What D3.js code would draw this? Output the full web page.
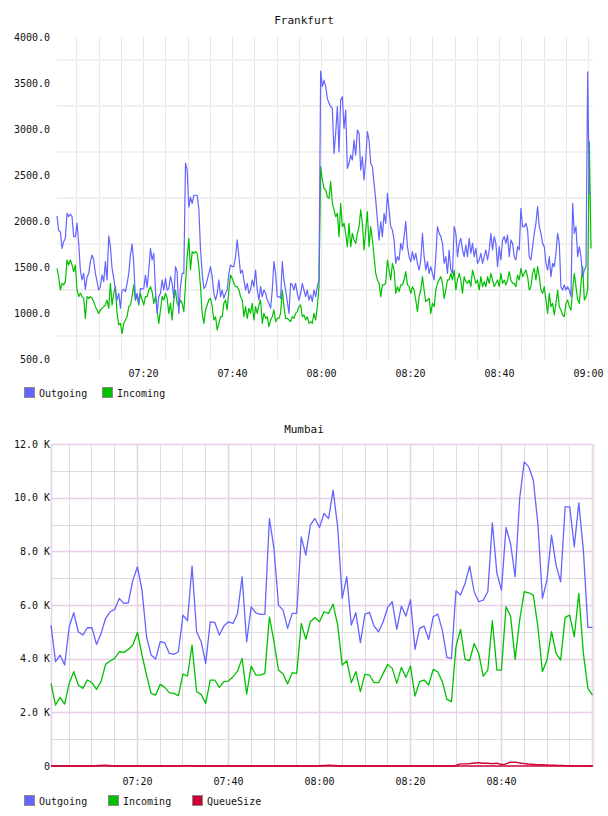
<!DOCTYPE html>
<html><head><meta charset="utf-8">
<script src="https://cdn.jsdelivr.net/npm/d3@7"></script>
<style>
body{margin:0;background:#fff}
svg text{font-family:"DejaVu Sans Mono",monospace;fill:#111}
</style>
</head><body>
<svg id="c" width="608" height="816"></svg>
<script>
// ---------------- Frankfurt data (samples every 22.5 s from 07:00:40) ----------------
const frankStart = "07:00:40";
const frankStepSec = 22.5;
const frankOutgoing = [
2055,1895,1884,1703,1775,1812,2083,2047,2076,2047,
1830,1830,1975,1757,1467,1359,1431,1257,1388,1431,
1558,1630,1576,1431,1341,1250,1286,1413,1341,1558,
1359,1837,1721,1486,1377,1250,1141,1214,1051,1250,
1257,1232,1323,1431,1630,1750,1540,1141,1214,1105,
1268,1257,1268,1413,1279,1467,1703,1576,1649,1250,
996,1178,1214,1359,1250,1377,1250,1268,1395,1323,
1160,1504,1449,996,1286,1431,1431,
2630,2555,2150,2260,2190,2280,2280,2280,2130,
1690,1430,1268,1286,1359,1431,1504,1395,1214,1141,
1214,1359,1178,1250,1160,1214,1250,1431,1522,1504,
1504,1612,1794,1612,1431,1467,1359,1250,1323,1214,
1250,1359,1286,1467,1250,1141,1286,1178,1250,1214,
1141,1105,1051,1250,1558,1431,1178,1178,1160,1558,
1359,1250,1123,996,1323,1305,1250,1323,1214,1141,
1214,1323,1250,1178,1250,1141,1196,1123,1250,1178,1286,1359,
3630,3460,3532,3460,3333,3279,3243,3225,2735,2953,3243,2754,3315,3351,3007,3206,2572,
2627,2717,2663,2880,2717,2989,2953,2554,2699,2446,2663,2971,2880,2627,2590,2409,2228,
2011,1793,1993,1830,2083,1975,2300,2120,1938,1902,
1793,1540,1612,1576,1757,1685,1830,1993,1721,1612,
1558,1667,1576,1649,1540,1467,1576,1866,1612,1467,
1558,1431,1504,1431,1359,1612,1938,1866,1830,1757,
1540,1612,1431,1685,1467,1431,1938,1866,1612,1757,
1812,1685,1612,1739,1612,1812,1649,1757,1612,1703,
1540,1576,1649,1540,1612,1685,1576,1685,1866,1685,
1830,1757,1504,1721,1576,1794,1830,1757,1848,1612,
1794,1757,1612,1576,1721,1685,2138,1938,1938,1975,
1902,1612,1576,1721,1866,1975,2156,1938,1866,1757,
1721,1540,1467,1612,1395,1540,1504,1649,1866,1757,
1286,1250,1305,1250,1286,1250,1178,2192,1866,1938,
1612,1721,1612,1395,1467,1504,3620,2300,2300
];
const frankIncoming = [
1486,
1395,1250,1323,1305,1341,1576,1522,1576,1522,1449,
1522,1250,1178,1214,1178,1160,942,1178,1160,1178,
1160,1123,1069,1033,996,1033,1051,1069,1087,1141,
1051,1323,1087,1214,1286,996,870,888,779,888,
924,960,1069,1087,1178,
1305,1141,1196,1087,1214,1141,1087,1178,1178,1250,
1286,1232,1105,1178,1033,888,1033,1178,1141,1214,
1160,996,1105,924,1141,1250,1105,1069,1141,1105,1015,1305,1612,1812,
1467,1667,1649,1667,1649,1504,1286,996,888,1033,
1087,1141,1160,1069,924,960,815,888,960,960,
1105,1141,1033,1250,1413,1377,1323,1286,1286,1250,
1178,1141,960,1069,942,1051,996,1105,924,1069,
996,1087,1141,888,996,942,960,851,924,960,
1033,906,942,942,996,1250,1069,942,942,924,
906,960,942,996,1015,1069,
1087,960,978,924,960,888,906,888,996,924,1069,1286,
2590,2446,2355,2337,2264,2246,2427,
2192,2120,2047,2083,1830,2192,1938,1975,1866,1721,
1975,1721,1866,1794,1757,1866,1938,2120,1975,1685,
1902,2101,1721,1938,1794,1612,1431,1359,1323,1178,
1305,1305,1323,1576,1467,1359,1540,1467,1214,1286,
1232,1305,1305,1359,1449,1305,1286,1214,1286,1250,
1141,1015,1178,1250,1395,1250,1123,1141,1160,996,
1105,1069,1250,1323,1359,1395,1323,1160,1250,1359,
1359,1431,1359,1467,1250,1359,1431,1359,1214,1395,
1341,1323,1359,1286,1467,1395,1323,1359,1250,1395,
1286,1341,1286,1395,1323,1431,1359,1286,1323,1359,
1286,1431,1323,1359,1305,1359,1449,1359,1323,1323,
1286,1413,1359,1486,1395,1431,1467,1395,1250,1286,
1431,1486,1359,1504,1395,1250,1214,1286,1141,996,
1214,1069,1105,978,1105,1250,1069,1033,978,960,
1105,1141,1069,1033,1250,1431,1286,1141,1105,1322,
1504,1141,1178,1250,
2860,1700
];
const frankDomain = ["07:00:40", "09:01:07"];
const frankYTicks = [500,1000,1500,2000,2500,3000,3500,4000];
const frankYGrid = [750,1250,1750,2250,2750,3250,3750];
const frankXTicks = ["07:20:00","07:40:00","08:00:00","08:20:00","08:40:00","09:00:00"];

// ---------------- Mumbai data (one sample per minute from 07:01:06) ----------------
const mumStart = "07:01:06";
const mumStepSec = 60;
const mumOutgoing = [
5251,3886,4134,3762,5189,5710,5003,4879,5152,5152,
4531,4941,5499,5748,5835,6245,6059,6084,6928,7424,
6556,4817,4134,3985,4631,4593,4196,4159,4258,5624,
5413,7449,5003,4631,3824,5375,5350,4879,5214,5375,
5313,5686,7052,4631,5934,5710,5648,5648,9224,8107,
5997,5811,5127,5686,5686,8541,7859,8976,9224,8889,
9410,9224,10279,8914,6245,7052,5251,5710,4593,5661,
5723,5214,5003,5375,5909,6120,5090,5959,5586,6200,
4345,5127,5214,4717,5561,5661,5065,4047,4010,6530,
6369,6804,7449,6494,6121,6183,6494,9063,7176,6556,
8889,8293,7052,9969,11334,11148,10651,9038,6245,6928,
8603,7486,6866,9658,9658,8169,9807,8045,5164,5164
];
const mumIncoming = [
3080,2273,2558,2310,3080,3514,3017,2893,3204,3104,
2856,3142,3787,3911,4010,4258,4234,4345,4507,4978,
4134,3390,2707,2645,3042,2930,2732,2707,2620,3427,
3353,4507,2769,2670,2335,3204,3204,2930,3142,3166,
3328,3539,4010,2682,3725,3390,3390,3452,5561,4631,
3576,3427,3055,3477,3452,5313,4717,5375,5537,5375,
5748,5686,6033,5251,3762,3923,3104,3514,2769,3427,
3390,3104,3104,3452,3787,3638,3080,3675,3303,3725,
2608,3142,3204,3017,3601,3514,3142,2484,2397,4444,
5090,3973,3923,4569,4196,3353,3576,5413,3576,3576,
5934,5586,3973,5437,6494,6456,6369,5189,3514,3948,
5003,4196,3948,5537,5624,4817,6431,4196,2893,2645
];
const mumQueue = [
0,0,0,0,0,0,0,0,0,0,
10,25,30,15,0,0,0,0,0,0,
0,0,0,0,0,0,0,0,0,5,
15,5,0,0,0,0,0,0,0,0,
0,0,0,0,0,0,0,0,0,0,
0,0,0,0,0,0,0,0,0,10,
20,30,25,10,0,0,0,0,0,0,
0,0,0,0,0,0,0,0,0,0,
0,0,0,0,0,0,0,0,0,20,
80,80,90,110,120,100,100,90,100,60,
80,140,140,110,90,70,60,50,45,35,
30,25,20,15,10,5,5,0,0,0
];
const mumDomain = ["07:01:06", "09:00:13"];
const mumYTicks = [0,2000,4000,6000,8000,10000,12000];
const mumYTickLabels = ["0","2.0 K","4.0 K","6.0 K","8.0 K","10.0 K","12.0 K"];
const mumYMinor = [1000,3000,5000,7000,9000,11000];
const mumXTicks = ["07:20:00","07:40:00","08:00:00","08:20:00","08:40:00"];

const seriesNames = ["Outgoing","Incoming","QueueSize"];
const seriesColors = ["#6464ff","#00c000","#cc0033"];

// ---------------- drawing ----------------
const parse = d3.timeParse("%H:%M:%S");
const fmt = d3.timeFormat("%H:%M");
const svg = d3.select("#c");

function timesFor(start, stepSec, n){
  const t0 = parse(start).getTime();
  return d3.range(n).map(i => new Date(t0 + i*stepSec*1000));
}

// ===== Frankfurt =====
(function(){
  const L=57, R=593, T=37, B=359;
  const x = d3.scaleTime().domain(frankDomain.map(parse)).range([L,R]);
  const y = d3.scaleLinear().domain([500,4000]).range([B,T]);
  const g = svg.append("g");

  g.append("text").attr("x",304).attr("y",20).attr("text-anchor","middle")
   .attr("dominant-baseline","central").style("font-size","11px").text("Frankfurt");

  const vt = d3.timeMinute.every(5).range(x.domain()[0], x.domain()[1]);
  g.append("g").selectAll("line").data(vt).join("line")
   .attr("x1",d=>Math.round(x(d))+0.5).attr("x2",d=>Math.round(x(d))+0.5)
   .attr("y1",T).attr("y2",B).attr("stroke","#e6e6e6").attr("stroke-width",1);
  g.append("g").selectAll("line").data(frankYGrid).join("line")
   .attr("x1",L).attr("x2",R).attr("y1",d=>y(d)).attr("y2",d=>y(d))
   .attr("stroke","#f0f0f0").attr("stroke-width",2);

  const ya = g.append("g").attr("transform",`translate(${L},0)`)
    .call(d3.axisLeft(y).tickValues(frankYTicks).tickFormat(d3.format(".1f")).tickSize(0).tickPadding(7));
  ya.select(".domain").remove();
  ya.selectAll("text").attr("font-family",null).style("font-size","10px");
  const xa = g.append("g").attr("transform",`translate(0,${B})`)
    .call(d3.axisBottom(x).tickValues(frankXTicks.map(parse)).tickFormat(fmt).tickSize(0).tickPadding(11));
  xa.select(".domain").remove();
  xa.selectAll("text").attr("font-family",null).style("font-size","10px");

  const times = timesFor(frankStart, frankStepSec, frankOutgoing.length);
  const line = d3.line().x((d,i)=>x(times[i])).y(d=>y(d));
  g.append("path").datum(frankIncoming).attr("d",line).attr("fill","none")
   .attr("stroke",seriesColors[1]).attr("stroke-width",1.2).attr("stroke-linejoin","round");
  g.append("path").datum(frankOutgoing).attr("d",line).attr("fill","none")
   .attr("stroke",seriesColors[0]).attr("stroke-width",1.2).attr("stroke-linejoin","round");

  const lx = [24,102];
  const lg = g.append("g").selectAll("g").data([0,1]).join("g")
    .attr("transform",(d,i)=>`translate(${lx[i]},387)`);
  lg.append("rect").attr("x",0.5).attr("y",0.5).attr("width",10).attr("height",10)
    .attr("fill",d=>seriesColors[d]).attr("stroke","#8a8a8a");
  lg.append("text").attr("x",15).attr("y",6).attr("dominant-baseline","central")
    .style("font-size","10px").text(d=>seriesNames[d]);
})();

// ===== Mumbai =====
(function(){
  const L=51, R=593, T=444, B=766;
  const x = d3.scaleTime().domain(mumDomain.map(parse)).range([L,R]);
  const y = d3.scaleLinear().domain([0,12000]).range([B,T]);
  const g = svg.append("g");

  g.append("text").attr("x",304).attr("y",429).attr("text-anchor","middle")
   .attr("dominant-baseline","central").style("font-size","11px").text("Mumbai");

  const vt = d3.timeMinute.every(5).range(x.domain()[0], x.domain()[1]);
  const isMajor = d => d.getMinutes() % 20 === 0;
  const minorC = "#dedbde", majorC = "#e8d0e8";
  g.append("g").selectAll("line").data(vt.filter(d=>!isMajor(d))).join("line")
   .attr("x1",d=>Math.round(x(d))+0.5).attr("x2",d=>Math.round(x(d))+0.5)
   .attr("y1",T).attr("y2",B).attr("stroke",minorC).attr("stroke-width",1);
  g.append("g").selectAll("line").data(mumYMinor).join("line")
   .attr("x1",L).attr("x2",R).attr("y1",d=>Math.round(y(d))+0.5).attr("y2",d=>Math.round(y(d))+0.5)
   .attr("stroke",minorC).attr("stroke-width",1);
  g.append("g").selectAll("line").data(vt.filter(isMajor)).join("line")
   .attr("x1",d=>Math.round(x(d))+0.5).attr("x2",d=>Math.round(x(d))+0.5)
   .attr("y1",T).attr("y2",B).attr("stroke",majorC).attr("stroke-width",1.5);
  g.append("g").selectAll("line").data(mumYTicks.filter(d=>d>0)).join("line")
   .attr("x1",L).attr("x2",R).attr("y1",d=>Math.round(y(d))+0.5).attr("y2",d=>Math.round(y(d))+0.5)
   .attr("stroke",majorC).attr("stroke-width",1.5);
  g.append("line").attr("x1",L+0.5).attr("x2",L+0.5).attr("y1",T).attr("y2",B)
   .attr("stroke",majorC).attr("stroke-width",1.5);
  g.append("line").attr("x1",R+0.5).attr("x2",R+0.5).attr("y1",T).attr("y2",B)
   .attr("stroke","#eee0ee").attr("stroke-width",2);

  const ya = g.append("g").attr("transform",`translate(${L},0)`)
    .call(d3.axisLeft(y).tickValues(mumYTicks).tickFormat((d,i)=>mumYTickLabels[i]).tickSize(0).tickPadding(1));
  ya.select(".domain").remove();
  ya.selectAll("text").attr("font-family",null).style("font-size","10px");
  const xa = g.append("g").attr("transform",`translate(0,${B})`)
    .call(d3.axisBottom(x).tickValues(mumXTicks.map(parse)).tickFormat(fmt).tickSize(0).tickPadding(12));
  xa.select(".domain").remove();
  xa.selectAll("text").attr("font-family",null).style("font-size","10px");

  const times = timesFor(mumStart, mumStepSec, mumOutgoing.length);
  const line = d3.line().x((d,i)=>x(times[i])).y(d=>y(d));
  const qline = d3.line().x((d,i)=>x(times[i])).y(d=>y(d)).curve(d3.curveMonotoneX);
  g.append("line").attr("x1",L).attr("x2",R).attr("y1",B).attr("y2",B)
   .attr("stroke",seriesColors[2]).attr("stroke-width",1.3);
  g.append("path").datum(mumQueue).attr("d",qline).attr("fill","none")
   .attr("stroke",seriesColors[2]).attr("stroke-width",1.4);
  g.append("path").datum(mumIncoming).attr("d",line).attr("fill","none")
   .attr("stroke",seriesColors[1]).attr("stroke-width",1.3).attr("stroke-linejoin","round");
  g.append("path").datum(mumOutgoing).attr("d",line).attr("fill","none")
   .attr("stroke",seriesColors[0]).attr("stroke-width",1.3).attr("stroke-linejoin","round");

  const lx = [24,108,192];
  const lg = g.append("g").selectAll("g").data([0,1,2]).join("g")
    .attr("transform",(d,i)=>`translate(${lx[i]},795)`);
  lg.append("rect").attr("x",0.5).attr("y",0.5).attr("width",10).attr("height",10)
    .attr("fill",d=>seriesColors[d]).attr("stroke","#8a8a8a");
  lg.append("text").attr("x",15).attr("y",6).attr("dominant-baseline","central")
    .style("font-size","10px").text(d=>seriesNames[d]);
})();
</script>
</body></html>
